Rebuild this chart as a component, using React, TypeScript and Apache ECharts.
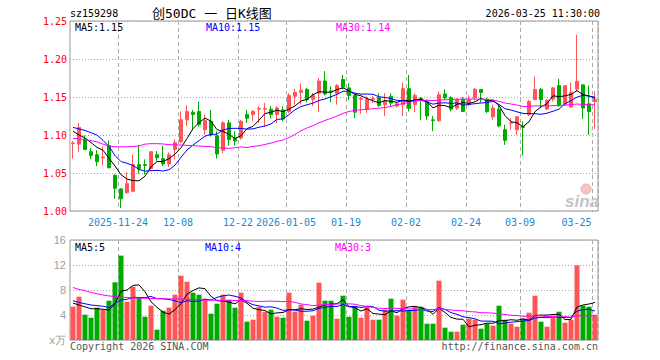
import React, { useEffect, useRef } from "react";
import * as echarts from "echarts";

const dates = [
  "2025-11-12", "2025-11-13", "2025-11-14", "2025-11-17", "2025-11-18", "2025-11-19", "2025-11-20", "2025-11-21",
  "2025-11-24", "2025-11-25", "2025-11-26", "2025-11-27", "2025-11-28",
  "2025-12-01", "2025-12-02", "2025-12-03", "2025-12-04", "2025-12-05",
  "2025-12-08", "2025-12-09", "2025-12-10", "2025-12-11", "2025-12-12",
  "2025-12-15", "2025-12-16", "2025-12-17", "2025-12-18", "2025-12-19",
  "2025-12-22", "2025-12-23", "2025-12-24", "2025-12-25", "2025-12-26",
  "2025-12-29", "2025-12-30", "2025-12-31",
  "2026-01-05", "2026-01-06", "2026-01-07", "2026-01-08", "2026-01-09",
  "2026-01-12", "2026-01-13", "2026-01-14", "2026-01-15", "2026-01-16",
  "2026-01-19", "2026-01-20", "2026-01-21", "2026-01-22", "2026-01-23",
  "2026-01-26", "2026-01-27", "2026-01-28", "2026-01-29", "2026-01-30",
  "2026-02-02", "2026-02-03", "2026-02-04", "2026-02-05", "2026-02-06",
  "2026-02-09", "2026-02-10", "2026-02-11", "2026-02-12", "2026-02-13",
  "2026-02-24", "2026-02-25", "2026-02-26", "2026-02-27",
  "2026-03-02", "2026-03-03", "2026-03-04", "2026-03-05", "2026-03-06",
  "2026-03-09", "2026-03-10", "2026-03-11", "2026-03-12", "2026-03-13",
  "2026-03-16", "2026-03-17", "2026-03-18", "2026-03-19", "2026-03-20",
  "2026-03-23", "2026-03-24", "2026-03-25",
];

const tickDates = ["2025-11-24", "2025-12-08", "2025-12-22", "2026-01-05", "2026-01-19", "2026-02-02", "2026-02-24", "2026-03-09", "2026-03-25"];
const tickLabels = ["2025-11-24", "12-08", "12-22", "2026-01-05", "01-19", "02-02", "02-24", "03-09", "03-25"];

const opens = [
  1.089, 1.088, 1.094, 1.078, 1.074, 1.070, 1.086, 1.047, 1.029, 1.024,
  1.026, 1.061, 1.061, 1.056, 1.074, 1.069, 1.062, 1.081, 1.091, 1.120,
  1.130, 1.131, 1.107, 1.118, 1.099, 1.080, 1.116, 1.096, 1.096, 1.127,
  1.127, 1.134, 1.134, 1.134, 1.127, 1.133, 1.131, 1.151, 1.156, 1.160,
  1.147, 1.155, 1.171, 1.158, 1.155, 1.173, 1.162, 1.152, 1.147, 1.134,
  1.147, 1.149, 1.140, 1.151, 1.138, 1.140, 1.161, 1.140, 1.148, 1.144,
  1.120, 1.119, 1.154, 1.149, 1.1355, 1.147, 1.140, 1.149, 1.160, 1.147,
  1.124, 1.134, 1.107, 1.1155, 1.107, 1.111, 1.127, 1.1465, 1.160, 1.1342,
  1.1474, 1.165, 1.140, 1.137, 1.1605, 1.166, 1.141, 1.144,
];
const closes = [
  1.0895, 1.110, 1.081, 1.073, 1.065, 1.071, 1.057, 1.030, 1.016, 1.036,
  1.061, 1.056, 1.060, 1.078, 1.070, 1.062, 1.074, 1.090, 1.120, 1.131,
  1.127, 1.114, 1.119, 1.100, 1.075, 1.116, 1.094, 1.092, 1.118, 1.122,
  1.131, 1.135, 1.135, 1.127, 1.1355, 1.121, 1.152, 1.156, 1.159, 1.1465,
  1.152, 1.171, 1.154, 1.157, 1.165, 1.163, 1.152, 1.130, 1.148, 1.147,
  1.148, 1.139, 1.145, 1.142, 1.141, 1.161, 1.135, 1.152, 1.147, 1.125,
  1.119, 1.153, 1.149, 1.134, 1.147, 1.131, 1.1465, 1.160, 1.156, 1.131,
  1.1355, 1.112, 1.093, 1.116, 1.124, 1.110, 1.144, 1.160, 1.1465, 1.1456,
  1.162, 1.1386, 1.165, 1.156, 1.1706, 1.1355, 1.131, 1.147,
];
const lows = [
  1.069, 1.078, 1.080, 1.068, 1.059, 1.060, 1.056, 1.016, 1.004, 1.023,
  1.025, 1.049, 1.048, 1.053, 1.066, 1.059, 1.058, 1.068, 1.089, 1.112,
  1.108, 1.111, 1.100, 1.098, 1.069, 1.076, 1.086, 1.086, 1.094, 1.116,
  1.118, 1.116, 1.111, 1.122, 1.116, 1.118, 1.129, 1.140, 1.140, 1.143,
  1.138, 1.130, 1.152, 1.143, 1.140, 1.160, 1.146, 1.122, 1.128, 1.129,
  1.142, 1.137, 1.125, 1.138, 1.136, 1.125, 1.131, 1.130, 1.120, 1.120,
  1.105, 1.117, 1.146, 1.131, 1.133, 1.130, 1.138, 1.146, 1.143, 1.129,
  1.120, 1.110, 1.087, 1.107, 1.100, 1.073, 1.125, 1.146, 1.1355, 1.133,
  1.144, 1.137, 1.1386, 1.1355, 1.157, 1.121, 1.100, 1.108,
];
const highs = [
  1.092, 1.116, 1.0995, 1.083, 1.080, 1.085, 1.093, 1.048, 1.030, 1.051,
  1.074, 1.087, 1.068, 1.079, 1.079, 1.086, 1.077, 1.094, 1.131, 1.139,
  1.133, 1.144, 1.127, 1.133, 1.105, 1.118, 1.120, 1.105, 1.120, 1.133,
  1.133, 1.138, 1.142, 1.138, 1.138, 1.138, 1.155, 1.161, 1.168, 1.162,
  1.155, 1.175, 1.184, 1.164, 1.167, 1.179, 1.168, 1.153, 1.150, 1.151,
  1.151, 1.155, 1.155, 1.155, 1.143, 1.169, 1.179, 1.155, 1.150, 1.147,
  1.125, 1.157, 1.160, 1.151, 1.148, 1.150, 1.152, 1.162, 1.160, 1.149,
  1.140, 1.140, 1.1136, 1.122, 1.125, 1.118, 1.1465, 1.177, 1.162, 1.147,
  1.163, 1.174, 1.165, 1.169, 1.232, 1.166, 1.165, 1.1575,
];
// volume in units of 10k (万)
const volumes = [
  5.33, 6.93, 4.05, 3.57, 5.17, 4.85, 6.29, 9.23, 13.5, 6.13,
  8.53, 6.72, 3.73, 5.49, 1.65, 4.69, 5.17, 7.25, 10.29, 9.33,
  7.57, 7.25, 6.61, 4.21, 5.81, 7.25, 6.45, 5.17, 7.57, 2.93,
  3.25, 5.33, 4.53, 4.85, 3.73, 3.57, 7.57, 4.53, 5.65, 3.09,
  3.89, 9.17, 6.29, 6.29, 3.41, 7.09, 3.73, 5.33, 3.57, 5.33,
  3.25, 3.25, 4.85, 6.61, 3.89, 6.45, 4.69, 5.33, 5.33, 2.61,
  2.61, 9.49, 1.97, 1.33, 1.33, 2.45, 3.41, 3.25, 1.81, 2.61,
  2.29, 5.49, 3.25, 2.61, 2.13, 3.41, 4.37, 7.09, 2.93, 2.13,
  3.89, 4.53, 2.77, 3.25, 11.95, 5.49, 5.33, 4.05,
];

// moving-average values before a full window is available
const ma5Lead = [1.105, 1.100, 1.096, 1.090];
const ma10Lead = [1.110, 1.108, 1.106, 1.103, 1.100, 1.093, 1.085, 1.073, 1.065];
const ma30Lead = [
  1.0955, 1.095, 1.094, 1.0925, 1.091, 1.088, 1.0855, 1.0845, 1.0845, 1.0845,
  1.0848, 1.0855, 1.0880, 1.0886, 1.0886, 1.0882, 1.0873, 1.0870, 1.0868, 1.0864,
  1.0860, 1.0855, 1.0850, 1.0846, 1.0833, 1.0829, 1.0824, 1.0833, 1.0842,
];
const vma5Lead = [5.9, 5.6, 5.3, 5.0];
const vma10Lead = [6.3, 6.0, 5.8, 5.6, 5.5, 5.4, 5.2, 5.9, 6.4];
const vma30Lead = [
  8.4, 8.1, 7.9, 7.6, 7.4, 7.2, 7.05, 6.95, 6.85, 6.8,
  6.75, 6.7, 6.68, 6.65, 6.62, 6.6, 6.58, 6.56, 6.55, 6.52,
  6.5, 6.45, 6.4, 6.38, 6.36, 6.35, 6.33, 6.32, 6.3,
];

const priceMaLabels = ["MA5:1.15", "MA10:1.15", "MA30:1.14"];
const volMaLabels = ["MA5:5", "MA10:4", "MA30:3"];

const RED = "#ff5555";
const GREEN = "#00aa00";
const MA_COLORS = ["#000000", "#0000ff", "#ff00ff"];
const MONO = "'DejaVu Sans Mono', monospace";
const AXIS_BLUE = "#1e88d0";

function movingAverage(values: number[], n: number, lead: number[]) {
  return values.map((_, i) => {
    if (i < n - 1) return lead[i];
    let s = 0;
    for (let k = i - n + 1; k <= i; k++) s += values[k];
    return +(s / n).toFixed(4);
  });
}

export default function App() {
  const ref = useRef<HTMLDivElement>(null);
  useEffect(() => {
    const chart = echarts.init(ref.current!, null, { renderer: "svg" });
    const candle = dates.map((_, i) => [opens[i], closes[i], lows[i], highs[i]]);
    const isTick = (i: number) => tickDates.indexOf(dates[i]) >= 0;
    const ma = [
      movingAverage(closes, 5, ma5Lead),
      movingAverage(closes, 10, ma10Lead),
      movingAverage(closes, 30, ma30Lead),
    ];
    const vma = [
      movingAverage(volumes, 5, vma5Lead),
      movingAverage(volumes, 10, vma10Lead),
      movingAverage(volumes, 30, vma30Lead),
    ];
    const volData = volumes.map((v, i) => ({
      value: v,
      itemStyle: { color: closes[i] >= opens[i] ? RED : GREEN },
    }));
    const splitDash = { show: true, interval: (i: number) => isTick(i), lineStyle: { color: "#aaaaaa", type: [4, 3] as any, width: 1 } };
    const dotted = { show: true, lineStyle: { color: "#aaaaaa", type: [1, 2] as any, width: 1 } };
    const lineSeries = (data: number[], color: string, x: number, y: number) => ({
      type: "line",
      xAxisIndex: x,
      yAxisIndex: y,
      data,
      symbol: "none",
      smooth: false,
      lineStyle: { color, width: 1 },
      itemStyle: { color },
      z: 5,
    });
    const txt = (text: string, x: number, y: number, fill: string, font: string, align = "left") => ({
      type: "text",
      x,
      y,
      silent: true,
      style: { text, fill, font, textAlign: align, align, textVerticalAlign: "middle", verticalAlign: "middle" },
      z: 20,
    });
    const font10 = `10px ${MONO}`;
    chart.setOption({
      animation: false,
      backgroundColor: "#ffffff",
      grid: [
        { left: 70, top: 21, width: 528, height: 190, show: true, borderColor: "#999999", borderWidth: 1, backgroundColor: "transparent" },
        { left: 70, top: 240, width: 528, height: 100, show: true, borderColor: "#999999", borderWidth: 1, backgroundColor: "transparent" },
      ],
      xAxis: [
        {
          type: "category",
          gridIndex: 0,
          data: dates,
          boundaryGap: true,
          axisLine: { show: false },
          axisTick: { show: false },
          axisLabel: {
            show: true,
            interval: (i: number) => isTick(i),
            margin: 6,
            formatter: (value: string) => {
              const k = tickDates.indexOf(value);
              if (k < 0) return "";
              return k === tickDates.length - 1 ? `{e|${tickLabels[k]}}` : `{n|${tickLabels[k]}}`;
            },
            rich: {
              n: { color: AXIS_BLUE, fontFamily: MONO, fontSize: 10, padding: [0, 6, 0, 0] },
              e: { color: AXIS_BLUE, fontFamily: MONO, fontSize: 10, padding: [0, 37, 0, 0] },
            },
          },
          splitLine: splitDash,
        },
        {
          type: "category",
          gridIndex: 1,
          data: dates,
          boundaryGap: true,
          axisLine: { show: false },
          axisTick: { show: false },
          axisLabel: { show: false },
          splitLine: splitDash,
        },
      ],
      yAxis: [
        {
          type: "value",
          gridIndex: 0,
          min: 1.0,
          max: 1.25,
          interval: 0.05,
          axisLine: { show: false },
          axisTick: { show: false },
          axisLabel: { color: "#ff0000", fontFamily: MONO, fontSize: 10, margin: 3, formatter: (v: number) => v.toFixed(2) },
          splitLine: dotted,
        },
        {
          type: "value",
          gridIndex: 1,
          min: 0,
          max: 16,
          interval: 4,
          axisLine: { show: false },
          axisTick: { show: false },
          axisLabel: {
            color: "#a0a0a0",
            fontFamily: "'Liberation Sans', sans-serif",
            fontSize: 11,
            margin: 4,
            formatter: (v: number) => (v === 0 ? "x万" : String(v)),
          },
          splitLine: dotted,
        },
      ],
      series: [
        {
          type: "candlestick",
          xAxisIndex: 0,
          yAxisIndex: 0,
          data: candle,
          barWidth: 4,
          itemStyle: { color: RED, color0: GREEN, borderColor: RED, borderColor0: GREEN, borderWidth: 1 },
          z: 3,
        },
        lineSeries(ma[0], MA_COLORS[0], 0, 0),
        lineSeries(ma[1], MA_COLORS[1], 0, 0),
        lineSeries(ma[2], MA_COLORS[2], 0, 0),
        {
          type: "bar",
          xAxisIndex: 1,
          yAxisIndex: 1,
          data: volData,
          barWidth: 5,
          z: 3,
        },
        lineSeries(vma[0], MA_COLORS[0], 1, 1),
        lineSeries(vma[1], MA_COLORS[1], 1, 1),
        lineSeries(vma[2], MA_COLORS[2], 1, 1),
      ],
      graphic: [
        txt("sz159298", 70, 13, "#000000", font10),
        txt("创50DC 一 日K线图", 152, 13, "#000000", "13px 'DejaVu Sans Mono', 'Noto Sans CJK SC', sans-serif"),
        txt("2026-03-25 11:30:00", 600, 13, "#000000", font10, "right"),
        txt(priceMaLabels[0], 75, 27, MA_COLORS[0], font10),
        txt(priceMaLabels[1], 206, 27, MA_COLORS[1], font10),
        txt(priceMaLabels[2], 336, 27, MA_COLORS[2], font10),
        txt(volMaLabels[0], 75, 247, MA_COLORS[0], font10),
        txt(volMaLabels[1], 205, 247, MA_COLORS[1], font10),
        txt(volMaLabels[2], 335, 247, MA_COLORS[2], font10),
        txt("Copyright 2026 SINA.COM", 70, 346, "#555555", font10),
        txt("http://finance.sina.com.cn", 598, 346, "#555555", font10, "right"),
        {
          type: "circle",
          shape: { cx: 586, cy: 189, r: 5 },
          style: { fill: "#f6c4c4", stroke: "#f0a8a8", lineWidth: 1 },
          silent: true,
          z: 1,
        },
        txt("sina", 565, 201, "#c4c4c4", "italic bold 17px 'Liberation Sans', sans-serif"),
      ],
    });
    return () => chart.dispose();
  }, []);
  return <div ref={ref} style={{ position: "fixed", left: 0, top: 0, width: 660, height: 360 }} />;
}
